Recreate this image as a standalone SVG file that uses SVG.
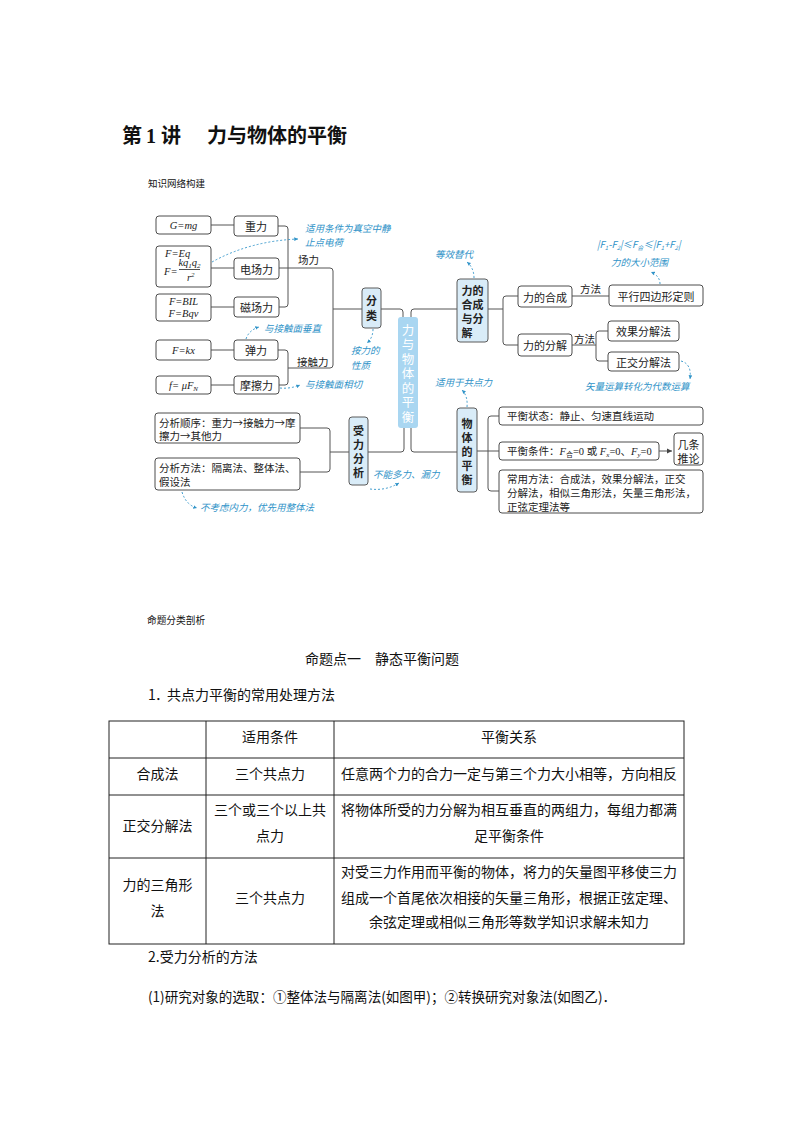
<svg xmlns="http://www.w3.org/2000/svg" width="794" height="1123" viewBox="0 0 794 1123">
<defs>
<marker id="ah" viewBox="0 0 6 6" refX="5" refY="3" markerWidth="5" markerHeight="5" orient="auto"><path d="M0,0.5 L5,3 L0,5.5 z" fill="#2f93c8"/></marker>
<marker id="arr" viewBox="0 0 8 8" refX="7" refY="4" markerWidth="6" markerHeight="6" orient="auto"><path d="M0,0.5 L7,4 L0,7.5 z" fill="#444"/></marker>
</defs>
<style>
.bx{fill:#fff;stroke:#4d4d4d;stroke-width:1}
.bl{fill:#d9ecf8;stroke:#5a5a5a;stroke-width:1}
.cn{fill:#a9d6f1;stroke:none}
.ln{fill:none;stroke:#555;stroke-width:1}
.an{fill:none;stroke:#2f93c8;stroke-width:0.9;stroke-dasharray:2,2}
.t{font-family:"Noto Sans CJK SC","Liberation Sans",sans-serif;font-size:10.5px;fill:#222}
.tc{font-family:"Noto Sans CJK SC","Liberation Sans",sans-serif;font-size:11px;fill:#222;text-anchor:middle;dominant-baseline:central}
.tb{font-family:"Noto Sans CJK SC","Liberation Sans",sans-serif;font-size:11px;font-weight:bold;fill:#222;text-anchor:middle;dominant-baseline:central}
.v{font-family:"Noto Sans CJK SC","Liberation Sans",sans-serif;font-size:11px;font-weight:bold;fill:#222;writing-mode:vertical-rl;text-orientation:upright}
.tw{font-family:"Noto Sans CJK SC","Liberation Sans",sans-serif;font-size:12.5px;fill:#fff;writing-mode:vertical-rl;text-orientation:upright;letter-spacing:2px}
.f{font-family:"Liberation Serif",serif;font-size:10.5px;font-style:italic;fill:#222}
.a{font-family:"Noto Sans CJK SC","Liberation Sans",sans-serif;font-size:9.5px;fill:#2f93c8;font-style:italic}
.p{font-family:"Noto Sans CJK SC","Liberation Sans",sans-serif;font-size:14px;fill:#111}
.pc{font-family:"Noto Sans CJK SC","Liberation Sans",sans-serif;font-size:14px;fill:#111;text-anchor:middle}
.tl{fill:none;stroke:#222;stroke-width:1}
</style>

<g id="header">
<text x="122" y="143" style="font-family:'Noto Sans CJK SC',sans-serif;font-size:20px;font-weight:bold;fill:#111">第<tspan x="146" style="font-family:'Liberation Serif',serif">1</tspan><tspan x="161">讲</tspan><tspan x="207">力与物体的平衡</tspan></text>
<text x="148" y="187" style="font-family:'Noto Sans CJK SC',sans-serif;font-size:9.5px;fill:#111">知识网络构建</text>
</g>

<g id="connectors">
<path class="ln" d="M211,225 H234 M211,268 H234 M211,307 H234"/>
<path class="ln" d="M278,226 H285 Q288,226 288,229 V304 Q288,307 285,307 H279"/>
<path class="ln" d="M279,268 H330 Q333,268 333,271 V365 Q333,368 330,368 H288"/>
<path class="ln" d="M211,350 H234 M211,385 H234"/>
<path class="ln" d="M278,350 H285 Q288,350 288,353 V382 Q288,385 285,385 H279"/>
<path class="ln" d="M333,309 H362"/>
<path class="ln" d="M381,309 H400 Q403,309 403,312 V317"/>
<path class="ln" d="M457,309 H414 Q411,309 411,312 V317"/>
<path class="ln" d="M404,428 V449 Q404,452 401,452 H368"/>
<path class="ln" d="M411,428 V449 Q411,452 414,452 H457"/>
<path class="ln" d="M300,428 H327 Q330,428 330,431 V469 Q330,472 327,472 H300 M330,452 H349"/>
<path class="ln" d="M488,309 H503 M518,296 H506 Q503,296 503,299 V342 Q503,345 506,345 H518"/>
<path class="ln" d="M572,296 H609"/>
<path class="ln" d="M572,345 H596 M608,331 H599 Q596,331 596,334 V358 Q596,361 599,361 H608"/>
<path class="ln" d="M477,451 H488 M499,416 H491 Q488,416 488,419 V488 Q488,491 491,491 H499 M488,451 H499"/>
<path class="ln" d="M659,451 H672" marker-end="url(#arr)"/>
</g>

<g id="labels">
<text class="t" x="298" y="264">场力</text>
<text class="t" x="297" y="366">接触力</text>
<text class="t" x="580" y="293">方法</text>
<text class="t" x="574" y="343">方法</text>
</g>

<g id="n-gmg"><rect class="bx" x="156" y="216" width="55" height="18" rx="3"/><text class="f" x="183.5" y="229" text-anchor="middle">G=mg</text></g>
<g id="n-zl"><rect class="bx" x="234" y="216" width="44" height="20" rx="3"/><text class="tc" x="256" y="226">重力</text></g>
<g id="n-feq"><rect class="bx" x="156" y="246" width="55" height="41" rx="3"/>
<text class="f" x="165" y="257">F=Eq</text>
<text class="f" x="164" y="275">F=</text>
<text class="f" x="189.5" y="266" text-anchor="middle" font-size="9.5">kq<tspan font-size="7" dy="2">1</tspan><tspan dy="-2">q</tspan><tspan font-size="7" dy="2">2</tspan></text>
<line x1="179" y1="269.5" x2="200" y2="269.5" stroke="#222" stroke-width="0.8"/>
<text class="f" x="187" y="281" font-size="9.5">r<tspan font-size="7" dy="-4">2</tspan></text>
</g>
<g id="n-dcl"><rect class="bx" x="234" y="258" width="45" height="21" rx="3"/><text class="tc" x="256.5" y="268.5">电场力</text></g>
<g id="n-fbil"><rect class="bx" x="156" y="294" width="55" height="27" rx="3"/><text class="f" text-anchor="middle"><tspan x="183.5" y="305">F=BIL</tspan><tspan x="183.5" y="317">F=Bqv</tspan></text></g>
<g id="n-ccl"><rect class="bx" x="234" y="297" width="45" height="20" rx="3"/><text class="tc" x="256.5" y="307">磁场力</text></g>
<g id="n-fkx"><rect class="bx" x="156" y="340" width="55" height="20" rx="3"/><text class="f" x="183.5" y="354" text-anchor="middle">F=kx</text></g>
<g id="n-tl"><rect class="bx" x="234" y="340" width="44" height="20" rx="3"/><text class="tc" x="256" y="350">弹力</text></g>
<g id="n-fmu"><rect class="bx" x="156" y="376" width="55" height="18" rx="3"/><text class="f" x="183.5" y="389" text-anchor="middle">f= μF<tspan font-size="7" dy="2">N</tspan></text></g>
<g id="n-mcl"><rect class="bx" x="234" y="376" width="45" height="18" rx="3"/><text class="tc" x="256.5" y="385">摩擦力</text></g>

<g id="n-fl"><rect class="bl" x="362" y="288" width="19" height="40" rx="3"/><text class="v" x="371.5" y="295.5" style="letter-spacing:4px">分类</text></g>

<g id="n-center"><rect class="cn" x="398" y="317" width="20" height="111" rx="3"/>
<text class="tw" x="408" y="323.5">力与物体的平衡</text></g>

<g id="n-hcfj"><rect class="bl" x="457" y="279" width="31" height="63" rx="3"/>
<text class="tb"><tspan x="472.5" y="290">力的</tspan><tspan x="472.5" y="304">合成</tspan><tspan x="472.5" y="318">与分</tspan><tspan x="467" y="332">解</tspan></text></g>

<g id="n-lhc"><rect class="bx" x="518" y="286" width="54" height="21" rx="3"/><text class="tc" x="545" y="296.5">力的合成</text></g>
<g id="n-lfj"><rect class="bx" x="518" y="334" width="54" height="22" rx="3"/><text class="tc" x="545" y="345">力的分解</text></g>
<g id="n-pxsbx"><rect class="bx" x="609" y="285" width="94" height="21" rx="3"/><text class="tc" x="656" y="295.5">平行四边形定则</text></g>
<g id="n-xgfj"><rect class="bx" x="608" y="321" width="71" height="20" rx="3"/><text class="tc" x="643.5" y="331">效果分解法</text></g>
<g id="n-zjfj"><rect class="bx" x="608" y="352" width="71" height="19" rx="3"/><text class="tc" x="643.5" y="361.5">正交分解法</text></g>

<g id="n-slfx"><rect class="bl" x="349" y="417" width="19" height="68" rx="3"/>
<text class="v" x="358.5" y="425.5" style="letter-spacing:3px">受力分析</text></g>
<g id="n-fxsx"><rect class="bx" x="155" y="413" width="145" height="30" rx="3"/><text class="t"><tspan x="159" y="427">分析顺序：重力→接触力→摩</tspan><tspan x="159" y="440">擦力→其他力</tspan></text></g>
<g id="n-fxff"><rect class="bx" x="155" y="458" width="145" height="32" rx="3"/><text class="t"><tspan x="159" y="472">分析方法：隔离法、整体法、</tspan><tspan x="159" y="486">假设法</tspan></text></g>

<g id="n-wtph"><rect class="bl" x="457" y="408" width="20" height="84" rx="3"/>
<text class="v" x="467" y="418.5" style="letter-spacing:3px">物体的平衡</text></g>
<g id="n-phzt"><rect class="bx" x="499" y="407" width="204" height="18" rx="3"/><text class="t" x="507" y="420">平衡状态：静止、匀速直线运动</text></g>
<g id="n-phtj"><rect class="bx" x="499" y="442" width="160" height="18" rx="3"/><text class="t" x="507" y="455">平衡条件：<tspan class="f">F</tspan><tspan font-size="7" dy="2">合</tspan><tspan dy="-2" style="font-family:'Liberation Serif',serif">=0 </tspan>或<tspan style="font-family:'Liberation Serif',serif;font-style:italic"> F</tspan><tspan font-size="7" dy="2" style="font-family:'Liberation Serif',serif;font-style:italic">x</tspan><tspan dy="-2" style="font-family:'Liberation Serif',serif">=0</tspan>、<tspan style="font-family:'Liberation Serif',serif;font-style:italic">F</tspan><tspan font-size="7" dy="2" style="font-family:'Liberation Serif',serif;font-style:italic">y</tspan><tspan dy="-2" style="font-family:'Liberation Serif',serif">=0</tspan></text></g>
<g id="n-jttl"><rect class="bx" x="674" y="433" width="29" height="32" rx="3"/><text class="tc"><tspan x="688.5" y="443.5">几条</tspan><tspan x="688.5" y="457.5">推论</tspan></text></g>
<g id="n-cyff"><rect class="bx" x="499" y="470" width="204" height="43" rx="3"/><text class="t"><tspan x="507" y="483">常用方法：合成法，效果分解法，正交</tspan><tspan x="507" y="497">分解法，相似三角形法，矢量三角形法，</tspan><tspan x="507" y="511">正弦定理法等</tspan></text></g>

<g id="annotations">
<path class="an" d="M212,262 Q250,241 298,239" marker-end="url(#ah)"/>
<text class="a"><tspan x="305" y="232">适用条件为真空中静</tspan><tspan x="305" y="246">止点电荷</tspan></text>
<path class="an" d="M474,278 Q474,268 467,262" marker-end="url(#ah)"/>
<text class="a" x="435" y="258">等效替代</text>
<text class="a" x="597" y="248" font-size="8">|F<tspan font-size="6" dy="1.5">1</tspan><tspan dy="-1.5">-F</tspan><tspan font-size="6" dy="1.5">2</tspan><tspan dy="-1.5">|≤F</tspan><tspan font-size="6" dy="1.5">合</tspan><tspan dy="-1.5">≤|F</tspan><tspan font-size="6" dy="1.5">1</tspan><tspan dy="-1.5">+F</tspan><tspan font-size="6" dy="1.5">2</tspan><tspan dy="-1.5">|</tspan></text>
<text class="a" x="611" y="266">力的大小范围</text>
<path class="an" d="M660,284 Q660,276 651,272" marker-end="url(#ah)"/>
<path class="an" d="M246,339 Q249,330 259,327" marker-end="url(#ah)"/>
<text class="a" x="264" y="332">与接触面垂直</text>
<path class="an" d="M280,388 Q290,389 300,385" marker-end="url(#ah)"/>
<text class="a" x="305" y="388">与接触面相切</text>
<path class="an" d="M373,329 Q373,338 367,343" marker-end="url(#ah)"/>
<text class="a"><tspan x="351" y="354">按力的</tspan><tspan x="351" y="369">性质</tspan></text>
<path class="an" d="M681,361 Q692,364 690,379" marker-end="url(#ah)"/>
<text class="a" x="585" y="390">矢量运算转化为代数运算</text>
<path class="an" d="M467,407 Q468,396 462,390" marker-end="url(#ah)"/>
<text class="a" x="435" y="386">适用于共点力</text>
<path class="an" d="M370,489 Q386,491 399,483" marker-end="url(#ah)"/>
<text class="a" x="373" y="478">不能多力、漏力</text>
<path class="an" d="M182,492 Q186,505 197,508" marker-end="url(#ah)"/>
<text class="a" x="200" y="511">不考虑内力，优先用整体法</text>
</g>

<g id="section2">
<text x="147" y="624" style="font-family:'Noto Sans CJK SC',sans-serif;font-size:9.7px;fill:#111">命题分类剖析</text>
<text class="p" x="305" y="664">命题点一　静态平衡问题</text>
<text class="p" x="148" y="700">1<tspan x="155">．</tspan><tspan x="167">共点力平衡的常用处理方法</tspan></text>
</g>

<g id="table">
<rect class="tl" x="109" y="721" width="575" height="223"/>
<path class="tl" d="M109,758 H684 M109,795 H684 M109,858 H684 M206,721 V944 M334,721 V944"/>
<text class="pc" x="270" y="742">适用条件</text>
<text class="pc" x="509" y="742">平衡关系</text>
<text class="pc" x="157.5" y="779">合成法</text>
<text class="pc" x="270" y="779">三个共点力</text>
<text class="pc" x="509" y="779">任意两个力的合力一定与第三个力大小相等，方向相反</text>
<text class="pc" x="157.5" y="831">正交分解法</text>
<text class="pc"><tspan x="270" y="815">三个或三个以上共</tspan><tspan x="270" y="841">点力</tspan></text>
<text class="pc"><tspan x="509" y="815">将物体所受的力分解为相互垂直的两组力，每组力都满</tspan><tspan x="509" y="841">足平衡条件</tspan></text>
<text class="pc"><tspan x="157.5" y="890">力的三角形</tspan><tspan x="157.5" y="916">法</tspan></text>
<text class="pc" x="270" y="903">三个共点力</text>
<text class="pc"><tspan x="509" y="877">对受三力作用而平衡的物体，将力的矢量图平移使三力</tspan><tspan x="509" y="903">组成一个首尾依次相接的矢量三角形，根据正弦定理、</tspan><tspan x="509" y="927">余弦定理或相似三角形等数学知识求解未知力</tspan></text>
</g>

<g id="section3">
<text class="p" x="148" y="962" font-size="13.5">2.受力分析的方法</text>
<text class="p" x="148" y="1002" textLength="468" lengthAdjust="spacingAndGlyphs">(1)研究对象的选取：①整体法与隔离法(如图甲)；②转换研究对象法(如图乙)．</text>
</g>
</svg>
